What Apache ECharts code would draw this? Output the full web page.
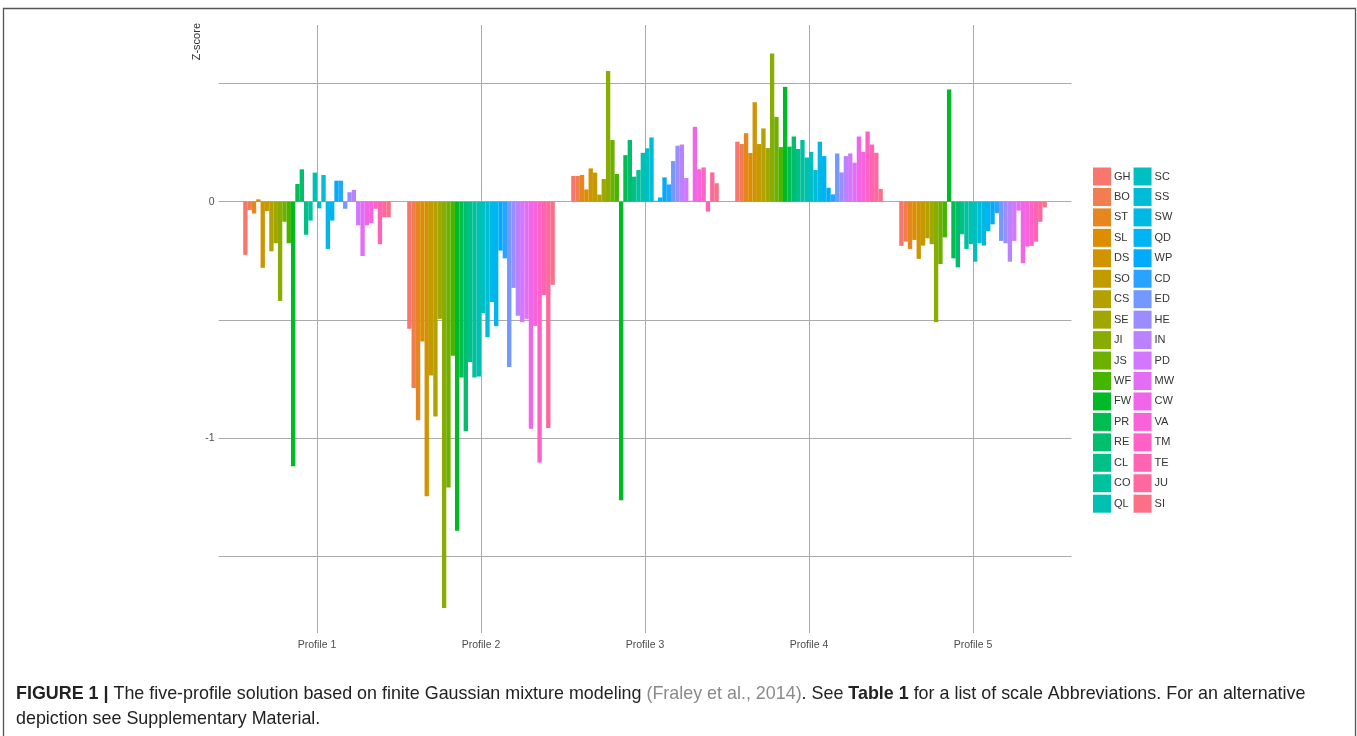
<!DOCTYPE html>
<html><head><meta charset="utf-8">
<script src="https://cdn.jsdelivr.net/npm/echarts@6/dist/echarts.min.js"></script>
<style>html,body{margin:0;padding:0;background:#fff}#c{width:1357px;height:736px}</style>
</head><body><div id="c"></div>
<script>
const profiles = ['Profile 1', 'Profile 2', 'Profile 3', 'Profile 4', 'Profile 5'];
const scales = ['GH','BO','ST','SL','DS','SO','CS','SE','JI','JS','WF','FW','PR','RE','CL','CO','QL',
                'SC','SS','SW','QD','WP','CD','ED','HE','IN','PD','MW','CW','VA','TM','TE','JU','SI'];
const profile1 = [-0.225,-0.035,-0.05,0.01,-0.28,-0.04,-0.21,-0.176,-0.42,-0.085,-0.176,-1.12,0.075,0.137,-0.14,-0.08,0.123,-0.028,0.113,-0.2,-0.08,0.089,0.089,-0.03,0.04,0.05,-0.1,-0.23,-0.1,-0.09,-0.03,-0.18,-0.066,-0.066];
const profile2 = [-0.538,-0.789,-0.925,-0.592,-1.247,-0.736,-0.909,-0.496,-1.72,-1.21,-0.652,-1.393,-0.744,-0.972,-0.679,-0.744,-0.74,-0.472,-0.574,-0.425,-0.527,-0.207,-0.24,-0.7,-0.365,-0.483,-0.51,-0.496,-0.961,-0.526,-1.104,-0.395,-0.958,-0.352];
const profile3 = [0.109,0.109,0.113,0.052,0.141,0.123,0.03,0.096,0.553,0.261,0.117,-1.264,0.197,0.261,0.106,0.134,0.207,0.226,0.272,0.004,0.018,0.103,0.073,0.172,0.237,0.242,0.1,0.004,0.317,0.137,0.145,-0.042,0.124,0.078];
const profile4 = [0.254,0.244,0.29,0.206,0.421,0.244,0.31,0.227,0.627,0.359,0.231,0.486,0.233,0.276,0.223,0.261,0.187,0.211,0.134,0.254,0.193,0.059,0.031,0.204,0.124,0.193,0.204,0.165,0.276,0.211,0.297,0.242,0.207,0.054];
const profile5 = [-0.187,-0.169,-0.2,-0.162,-0.242,-0.186,-0.155,-0.18,-0.51,-0.264,-0.151,0.475,-0.24,-0.278,-0.138,-0.2,-0.18,-0.254,-0.176,-0.186,-0.124,-0.096,-0.049,-0.166,-0.176,-0.254,-0.166,-0.038,-0.26,-0.19,-0.187,-0.169,-0.085,-0.024];
const profileValues = [profile1, profile2, profile3, profile4, profile5];
const yGridValues = [0.5, 0, -0.5, -1, -1.5];
const yTickLabels = [0, -1];
const xTickValues = [1, 2, 3, 4, 5];

// ggplot2 default hue palette (HCL, c=100, l=65)
function hclToHex(h, c, l) {
  const Xn = 95.047, Yn = 100, Zn = 108.883;
  const den = Xn + 15 * Yn + 3 * Zn;
  const un = 4 * Xn / den, vn = 9 * Yn / den;
  const hr = h * Math.PI / 180;
  const U = c * Math.cos(hr), V = c * Math.sin(hr);
  const Y = l > 8 ? Math.pow((l + 16) / 116, 3) : l / 903.3;
  const up = U / (13 * l) + un, vp = V / (13 * l) + vn;
  const X = 9 * Y * up / (4 * vp);
  const Z = -X / 3 - 5 * Y + 3 * Y / vp;
  const lin = [
    3.240479 * X - 1.537150 * Y - 0.498535 * Z,
    -0.969256 * X + 1.875992 * Y + 0.041556 * Z,
    0.055648 * X - 0.204043 * Y + 1.057311 * Z
  ];
  return '#' + lin.map(v => {
    let g = v <= 0.0031308 ? 12.92 * v : 1.055 * Math.pow(v, 1 / 2.4) - 0.055;
    g = Math.min(1, Math.max(0, g));
    return Math.round(g * 255).toString(16).padStart(2, '0');
  }).join('');
}
const palette = scales.map((s, i) => hclToHex(15 + i * 360 / scales.length, 100, 65));

const FONT = 'Liberation Sans, Arial, Helvetica, sans-serif';
const gridColor = '#ababab';

const series = scales.map((s, i) => ({
  name: s,
  type: 'bar',
  barGap: '0%',
  barCategoryGap: '10%',
  silent: true,
  z: 2,
  itemStyle: { color: palette[i] },
  emphasis: { disabled: true },
  data: profileValues.map((arr, j) => [xTickValues[j], arr[i]])
}));
series.push({
  name: 'gridlines',
  type: 'line',
  data: [],
  silent: true,
  showSymbol: false,
  z: 1,
  markLine: {
    silent: true,
    z: 1,
    symbol: ['none', 'none'],
    label: { show: false },
    lineStyle: { color: gridColor, width: 1, type: 'solid' },
    emphasis: { disabled: true },
    data: yGridValues.map(v => ({ yAxis: v })).concat(xTickValues.map(v => ({ xAxis: v })))
  }
});

const chart = echarts.init(document.getElementById('c'), null, { renderer: 'canvas' });
chart.setOption({
  animation: false,
  backgroundColor: '#ffffff',
  textStyle: { fontFamily: FONT },
  grid: { left: 218.6, right: 1357 - 1071.4, top: 25, bottom: 736 - 633, containLabel: false },
  xAxis: {
    type: 'value', min: 0.4, max: 5.6,
    axisLine: { show: false }, axisTick: { show: false }, splitLine: { show: false },
    axisLabel: {
      customValues: xTickValues,
      formatter: v => profiles[Math.round(v) - 1] || '',
      color: '#4d4d4d', fontSize: 10.5, fontFamily: FONT, margin: 7
    }
  },
  yAxis: {
    type: 'value', min: -1.826, max: 0.748,
    axisLine: { show: false }, axisTick: { show: false }, splitLine: { show: false },
    axisLabel: {
      customValues: yTickLabels,
      formatter: v => String(v),
      color: '#4d4d4d', fontSize: 10.5, fontFamily: FONT, margin: 4
    }
  },
  legend: {
    data: scales,
    orient: 'vertical',
    left: 1093, top: 167.5, height: 350,
    padding: 0,
    icon: 'rect', itemWidth: 18, itemHeight: 18, itemGap: 2.45,
    selectedMode: false,
    textStyle: { fontSize: 11, color: '#333', fontFamily: FONT, padding: [0, 0, 0, -2] }
  },
  title: {
    left: 16, top: 682, padding: 0,
    text: '{b|FIGURE 1 |}{n| The five-profile solution based on finite Gaussian mixture modeling }{g|(Fraley et al., 2014)}{n|. See }{b|Table 1}{n| for a list of scale Abbreviations. For an alternative}\n{n|depiction see Supplementary Material.}',
    textStyle: {
      fontFamily: FONT, fontWeight: 'normal',
      rich: {
        b: { fontFamily: FONT, fontSize: 17.9, fontWeight: 'bold', color: '#222', lineHeight: 25 },
        n: { fontFamily: FONT, fontSize: 17.9, fontWeight: 'normal', color: '#222', lineHeight: 25 },
        g: { fontFamily: FONT, fontSize: 17.9, fontWeight: 'normal', color: '#8a8a8a', lineHeight: 25 }
      }
    }
  },
  graphic: [
    { type: 'rect', silent: true, z: -10,
      shape: { x: 3.5, y: 8.5, width: 1352, height: 800 },
      style: { fill: 'none', stroke: '#555', lineWidth: 1.3 } },
    { type: 'text', silent: true, x: 197, y: 23, rotation: Math.PI / 2,
      style: { text: 'Z-score', fontSize: 11, fontFamily: FONT, fill: '#333',
               textAlign: 'right', textVerticalAlign: 'middle' } }
  ],
  series: series
});
</script></body></html>
